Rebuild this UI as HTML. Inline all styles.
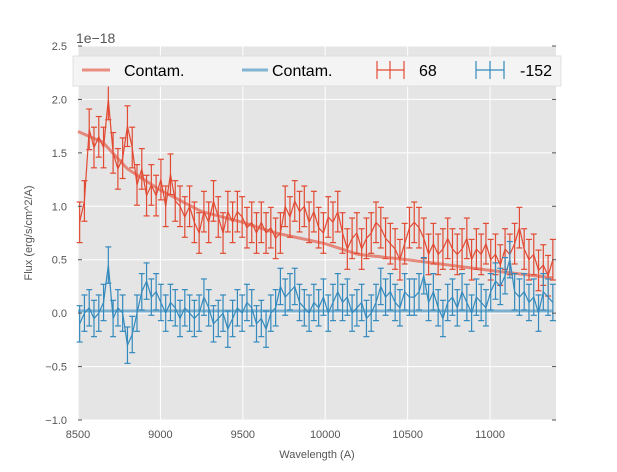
<!DOCTYPE html>
<html><head><meta charset="utf-8"><style>
body{margin:0;background:#fff;}
svg text{font-family:"Liberation Sans",sans-serif;}
</style></head><body>
<svg id="chart" width="617" height="467" xmlns="http://www.w3.org/2000/svg">
<rect x="78" y="46" width="478" height="374" fill="#e5e5e5"/>
<g id="grid"></g>
<g id="series"></g>
<g id="ticks"></g>
<text x="76" y="43" font-size="14" fill="#555">1e−18</text>
<text x="317" y="458" font-size="11" fill="#555" text-anchor="middle">Wavelength (A)</text>
<text transform="translate(32,233) rotate(-90)" font-size="11" fill="#555" text-anchor="middle">Flux (erg/s/cm^2/A)</text>
<g>
<rect x="73" y="56" width="488" height="30" fill="#f4f4f4" stroke="#e0e0e0"/>
<line x1="82" y1="70" x2="110" y2="70" stroke="#E24A33" stroke-opacity="0.6" stroke-width="3"/>
<text x="124" y="76" font-size="16" fill="#000">Contam.</text>
<line x1="242" y1="70" x2="268" y2="70" stroke="#348ABD" stroke-opacity="0.6" stroke-width="3"/>
<text x="272" y="76" font-size="16" fill="#000">Contam.</text>
<g stroke="#E24A33" stroke-width="1.2">
<line x1="377" y1="70" x2="404" y2="70"/><line x1="390" y1="61" x2="390" y2="79"/><line x1="377" y1="61" x2="377" y2="79"/><line x1="404" y1="61" x2="404" y2="79"/></g>
<text x="419" y="76" font-size="16" fill="#000">68</text>
<g stroke="#348ABD" stroke-width="1.2">
<line x1="476" y1="70" x2="504" y2="70"/><line x1="490" y1="61" x2="490" y2="79"/><line x1="476" y1="61" x2="476" y2="79"/><line x1="504" y1="61" x2="504" y2="79"/></g>
<text x="520" y="76" font-size="16" fill="#000">-152</text>
</g>
</svg>
<script>
const xStart = 8510, xStep = 29;
const redFlux = [0.85,1.05,1.72,1.55,1.65,1.55,2.0,1.5,1.35,1.45,1.75,1.55,1.2,1.35,1.1,1.2,1.1,1.25,1.0,1.3,1.05,1.0,0.9,1.0,0.85,0.75,0.95,0.85,1.05,0.9,0.75,0.95,0.85,0.95,0.9,0.8,0.85,0.75,0.85,0.75,0.8,0.7,0.75,1.0,0.9,1.05,0.95,1.0,0.85,0.95,0.8,0.75,0.9,0.85,0.95,0.75,0.6,0.7,0.75,0.6,0.7,0.75,0.85,0.8,0.7,0.65,0.6,0.5,0.65,0.8,0.85,0.8,0.7,0.55,0.65,0.55,0.6,0.7,0.6,0.55,0.6,0.7,0.5,0.6,0.55,0.65,0.5,0.55,0.45,0.6,0.55,0.65,0.8,0.6,0.5,0.55,0.4,0.45,0.35,0.5];
const blueFlux = [-0.1,0.0,0.05,-0.05,0.0,0.1,0.45,-0.05,0.05,0.0,-0.3,-0.2,0.0,0.2,0.3,0.15,0.2,0.1,0.0,0.1,0.05,-0.05,0.05,0.0,-0.05,0.0,0.15,0.05,-0.1,-0.05,0.0,-0.15,-0.05,0.05,0.0,0.1,0.05,-0.1,-0.05,-0.15,0.0,0.05,0.25,0.15,0.2,0.25,0.1,0.05,0.0,0.1,0.05,0.15,0.0,0.1,0.2,0.1,0.15,0.0,0.05,0.1,-0.05,0.0,0.1,0.25,0.15,0.2,0.1,0.05,0.2,0.15,0.15,0.2,0.35,0.1,0.2,0.05,-0.05,0.1,0.15,0.05,0.2,0.1,0.0,0.15,0.1,0.05,0.2,0.3,0.25,0.35,0.5,0.2,0.15,0.2,0.1,0.15,0.0,0.2,0.15,0.1];
const redErr = 0.19;
const blueErr = 0.17;
const contamX = [8500,8650,8800,9000,9250,9500,9700,10000,10200,10500,10750,11000,11380];
const contamRed = [1.7,1.6,1.35,1.15,0.95,0.85,0.75,0.65,0.55,0.5,0.45,0.4,0.33];
const contamBlue = [0.02,0.02,0.02,0.02,0.02,0.02,0.02,0.02,0.02,0.02,0.02,0.02,0.02];
const xTicks = [8500,9000,9500,10000,10500,11000];
const yTicks = [-1.0,-0.5,0.0,0.5,1.0,1.5,2.0,2.5];

const X0=78,X1=556,Y0=420,Y1=46,xmin=8500,xmax=11400,ymin=-1,ymax=2.5;
const sx=v=>X0+(v-xmin)/(xmax-xmin)*(X1-X0);
const sy=v=>Y0-(v-ymin)/(ymax-ymin)*(Y0-Y1);
const NS="http://www.w3.org/2000/svg";
function mk(tag,attrs,parent){const e=document.createElementNS(NS,tag);for(const k in attrs)e.setAttribute(k,attrs[k]);parent.appendChild(e);return e;}
const grid=document.getElementById('grid'),ser=document.getElementById('series'),tk=document.getElementById('ticks');
xTicks.forEach(t=>{
 const l=mk('line',{x1:sx(t),x2:sx(t),y1:Y1,y2:Y0,stroke:'#fff','stroke-width':1},grid);
 
 
 const tx=mk('text',{x:sx(t),y:Y0+18,'font-size':11,fill:'#555','text-anchor':'middle'},tk);
 tx.textContent=t;
 
 
});
yTicks.forEach(t=>{
 const l=mk('line',{x1:X0,x2:X1,y1:sy(t),y2:sy(t),stroke:'#fff','stroke-width':1},grid);
 
 
 mk('line',{x1:X1-4,x2:X1,y1:sy(t),y2:sy(t),stroke:'#555'},tk);
 mk('line',{x1:X0,x2:X0+4,y1:sy(t),y2:sy(t),stroke:'#555'},tk);
 const tx=mk('text',{x:X0-11,y:sy(t)+4,'font-size':11,fill:'#555','text-anchor':'end'},tk);
 tx.textContent=t.toFixed(1).replace('-','−');
 
 
});
function contam(arr,color,name){
 const p=mk('polyline',{points:contamX.map((x,i)=>sx(x)+','+sy(arr[i])).join(' '),fill:'none',stroke:color,'stroke-opacity':0.6,'stroke-width':3},ser);
 
 
}
function errs(arr,err,color,name){
 const g=mk('g',{stroke:color,'stroke-width':1.2,fill:'none'},ser);
 
 
 arr.forEach((v,i)=>{const x=sx(xStart+i*xStep);
  mk('line',{x1:x,x2:x,y1:sy(v-err),y2:sy(v+err)},g);
  mk('line',{x1:x-3,x2:x+3,y1:sy(v-err),y2:sy(v-err)},g);
  mk('line',{x1:x-3,x2:x+3,y1:sy(v+err),y2:sy(v+err)},g);});
 mk('polyline',{points:arr.map((v,i)=>sx(xStart+i*xStep)+','+sy(v)).join(' ')},g);
}
contam(contamRed,'#E24A33','contam-red-line');
contam(contamBlue,'#348ABD','contam-blue-line');
errs(redFlux,redErr,'#E24A33','series-68');
errs(blueFlux,blueErr,'#348ABD','series-m152');
</script>
</body></html>
